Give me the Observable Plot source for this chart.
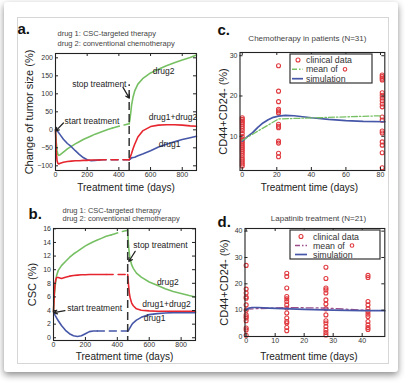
<!DOCTYPE html>
<html><head><meta charset="utf-8">
<script src="https://cdn.jsdelivr.net/npm/d3@7"></script>
<script src="https://cdn.jsdelivr.net/npm/@observablehq/plot@0.6"></script>
<style>
html,body{margin:0;padding:0;background:#fff;}
#page{position:relative;width:405px;height:385px;overflow:hidden;font-family:"Liberation Sans",Arial,sans-serif;}
#card{position:absolute;left:4px;top:2px;width:394px;height:370px;background:#fff;box-shadow:0 3px 7px rgba(0,0,0,0.45);border-radius:3px;}
#inner{position:absolute;left:17px;top:17px;width:370px;height:345px;border:1px solid #d6d6d6;}
.panel{position:absolute;}
</style></head><body>
<div id="page">
<div id="card"></div><div id="inner"></div>
<div class="panel" id="pa" style="left:0px;top:0px"></div>
<div class="panel" id="pc" style="left:200px;top:0px"></div>
<div class="panel" id="pb" style="left:0px;top:185px"></div>
<div class="panel" id="pd" style="left:200px;top:185px"></div>
</div>
<script>
// ---------- Panel a: change of tumor size ----------
const aTreatDays = [0,5,10,15,20,30,50,75,100,125,150,175,200,225,250,275,300,330,360,400,430,465];
const aDrug2Treat = [0,-35,-58,-68,-71,-69,-62,-53,-46,-39,-33,-27,-22,-17,-12,-8,-4,1,5,10,13,17];
const aComboTreat = [0,-62,-86,-93,-95,-93,-90,-88,-87,-86,-86,-85,-85,-84,-84,-84,-83,-83,-83,-83,-83,-83];
const aDrug1Treat = [0,-1,-3,-5,-8,-14,-26,-38,-47,-58,-68,-77,-83,-86,-85,-84,-83,-83,-83,-83,-83,-83];
const aAfterDays = [465,470,475,480,490,500,520,550,600,650,700,750,800,850,890];
const aDrug2After = [17,30,48,68,92,108,127,142,158,168,178,186,194,201,208];
const aComboAfter = [-83,-78,-72,-66,-52,-40,-20,-3,9,13,14,14,13,11,10];
const aDrug1After = [-83,-82,-80,-78,-77,-76,-72,-67,-58,-48,-40,-33,-27,-22,-18];
const aDashStart = {drug2: 360, combo: 275, drug1: 275};
const aNoteText = ["stop treatment","start treatment","drug2","drug1+drug2","drug1"];
const aNoteX = [448, 57, 614, 589, 652];
const aNoteY = [126, 23, 162, 34, -41];
const aNoteAnchor = ["end","start","start","start","start"];

// ---------- Panel b: CSC ----------
const bTreatDays = [0,5,10,15,20,30,50,75,100,125,150,175,200,225,250,275,300,330,360,400,430,465];
const bDrug2Treat = [3.8,6.2,7.5,8.5,9.2,9.9,10.6,11.2,11.8,12.3,12.7,13.1,13.5,13.8,14.1,14.35,14.6,14.9,15.1,15.4,15.6,15.8];
const bComboTreat = [3.8,6.5,8.0,8.6,8.85,8.85,8.7,8.9,9.05,9.15,9.2,9.25,9.25,9.3,9.3,9.3,9.3,9.3,9.3,9.3,9.3,9.3];
const bDrug1Treat = [3.8,3.6,3.3,3.1,2.9,2.5,1.8,1.1,0.6,0.3,0.2,0.3,0.6,0.9,1.0,1.0,1.0,1.0,1.0,1.0,1.0,1.0];
const bAfterDays = [465,470,475,480,490,500,520,550,600,650,700,750,800,850,890];
const bDrug2After = [15.8,13.6,12.4,11.6,10.7,10.2,9.5,8.9,8.2,7.7,7.2,6.8,6.5,6.2,6.0];
const bComboAfter = [9.3,7.8,6.6,5.9,5.1,4.7,4.25,4.05,3.95,3.9,3.9,3.9,3.9,3.9,3.9];
const bDrug1After = [1.0,1.1,1.3,1.5,1.9,2.2,2.6,3.0,3.4,3.55,3.65,3.7,3.7,3.7,3.7];
const bDashStart = {drug2: 360, combo: 330, drug1: 275};
const bNoteText = ["stop treatment","start treatment","drug2","drug1+drug2","drug1"];
const bNoteX = [500, 86, 648, 556, 566];
const bNoteY = [13.55, 4.3, 8.2, 4.85, 2.8];

// ---------- Panel c: chemotherapy patients ----------
const cDays = [0, 21, 81];
const cClinical0 = [14.6,14.2,13.8,13.4,13.0,12.5,12.0,11.4,10.7,9.9,9.3,8.8,8.3,7.8,7.3,6.8,6.3,5.8,5.2,4.6,4.1,3.6,3.1,2.6];
const cClinical21 = [27.5,21.2,18.6,16.7,16.3,15.8,13.0,12.5,12.1,8.8,8.3,5.8,4.9];
const cClinical81 = [25.2,24.8,24.4,24.0,20.8,20.2,19.5,18.8,18.0,17.3,14.8,14.0,11.3,10.8,8.6,7.8,5.9,2.2];
const cMean = [9.0, 14.3, 15.1];
const cSimDays = [0,3,6,9,12,15,18,21,25,30,40,50,60,70,82.5];
const cSim = [8.8,9.9,10.9,12.2,13.3,14.1,14.7,15.0,15.2,15.1,14.6,14.2,13.9,13.7,13.6];

// ---------- Panel d: lapatinib ----------
const dDays = [0, 14, 27.5, 42];
const dClinical0 = [27.0,18.0,16.5,15.0,14.5,12.0,10.0,8.2,7.5,7.0,6.0,3.2,2.5,0.5];
const dClinical14 = [24.0,22.8,18.4,15.2,14.3,13.3,12.0,10.8,8.9,7.0,5.7,5.1,3.4,2.2];
const dClinical27 = [26.3,22.0,18.4,17.7,16.5,13.9,12.3,10.5,8.2,6.0,5.1,3.8,2.5,1.5,0.6];
const dClinical42 = [23.2,22.4,13.3,12.0,10.5,9.5,8.5,7.6,5.7,4.4,3.4,2.7];
const dMean = [10.4, 11.0, 10.8, 9.9];
const dSimDays = [0,1,2,4,8,15,20,30,40,47.8];
const dSim = [10.2,10.8,11.0,11.0,10.8,10.5,10.3,10.0,9.8,9.8];

const legendLabels = ["clinical data", "mean of", "simulation"];
const subtitle = ["drug 1: CSC-targeted therapy", "drug 2: conventional chemotherapy"];

// ---------- styling ----------
const FONT = '"Liberation Sans", Arial, Helvetica, sans-serif';
const INK = "#222";
const GREEN = "#76c063", RED = "#e6262e", BLUE = "#4657a8", PURPLE = "#9b4d8c", DOT = "#e0393e";
const STOP_DAY = 465;

function rows(series, days, values) { return days.map((d, i) => ({series, day: d, value: values[i]})); }
function clinicalRows(days, cols) { return cols.flatMap((vals, i) => vals.map(v => ({day: days[i], value: v}))); }

function curveMarks(treat, after, dashStart, colors) {
  const m = [];
  for (const s of ["drug2", "drug1", "combo"]) {
    const t = treat[s], a = after[s];
    m.push(Plot.line(t.filter(r => r.day <= dashStart[s]), {x: "day", y: "value", stroke: colors[s], strokeWidth: 1.6}));
    m.push(Plot.line(t.filter(r => r.day >= dashStart[s]), {x: "day", y: "value", stroke: colors[s], strokeWidth: 1.6, strokeDasharray: "7,5"}));
    m.push(Plot.line(a, {x: "day", y: "value", stroke: colors[s], strokeWidth: 1.6}));
  }
  return m;
}

function legendMark({right, top, w, h, rowY, markX, lineX1, lineX2, textX, meanColor, meanDash}) {
  return (index, scales, values, dim) => {
    const x0 = dim.width - dim.marginRight - right - w, y0 = dim.marginTop + top;
    const g = d3.create("svg:g").attr("font-family", FONT).attr("font-size", 8.8).attr("fill", "#333").attr("text-anchor", "start");
    g.append("rect").attr("x", x0).attr("y", y0).attr("width", w).attr("height", h)
      .attr("fill", "white").attr("stroke", "#333").attr("stroke-width", 1.2);
    g.append("circle").attr("cx", x0 + markX).attr("cy", y0 + rowY[0]).attr("r", 2)
      .attr("fill", "none").attr("stroke", DOT).attr("stroke-width", 1.1);
    g.append("line").attr("x1", x0 + lineX1).attr("x2", x0 + lineX2).attr("y1", y0 + rowY[1]).attr("y2", y0 + rowY[1])
      .attr("stroke", meanColor).attr("stroke-width", 1.4).attr("stroke-dasharray", meanDash);
    g.append("line").attr("x1", x0 + lineX1).attr("x2", x0 + lineX2).attr("y1", y0 + rowY[2]).attr("y2", y0 + rowY[2])
      .attr("stroke", BLUE).attr("stroke-width", 1.7);
    legendLabels.forEach((t, i) => {
      g.append("text").attr("x", x0 + textX).attr("y", y0 + rowY[i]).attr("dy", "0.35em").attr("text-anchor", "start").text(t);
    });
    g.append("circle").attr("cx", x0 + textX + 39).attr("cy", y0 + rowY[1]).attr("r", 1.8)
      .attr("fill", "none").attr("stroke", DOT).attr("stroke-width", 1.1);
    return g.node();
  };
}

function panel({el, width, height, ml, mr, mt, mb, xDomain, yDomain, xTicks, yTicks, marks, overlays}) {
  const fw = width - ml - mr, fh = height - mt - mb;
  const p = Plot.plot({
    width, height, marginLeft: ml, marginRight: mr, marginTop: mt, marginBottom: mb,
    x: {domain: xDomain}, y: {domain: yDomain},
    style: {fontFamily: FONT, fontSize: "7px", color: "#333", background: "transparent", overflow: "visible"},
    marks: [
      ...marks,
      Plot.frame({stroke: INK, strokeWidth: 1.1}),
      Plot.tickX(xTicks, {x: d => d, insetTop: fh - 3, stroke: INK}),
      Plot.tickX(xTicks, {x: d => d, insetBottom: fh - 3, stroke: INK}),
      Plot.tickY(yTicks, {y: d => d, insetRight: fw - 3, stroke: INK}),
      Plot.tickY(yTicks, {y: d => d, insetLeft: fw - 3, stroke: INK}),
      Plot.axisX({ticks: xTicks, tickSize: 0, tickPadding: 2, label: null}),
      Plot.axisY({ticks: yTicks, tickSize: 0, tickPadding: 2.5, label: null}),
      ...overlays
    ]
  });
  document.getElementById(el).appendChild(p);
}

function textAt(t, opts) {
  return Plot.text([t], {text: d => d, fill: INK, ...opts});
}

// ---------- build panel a ----------
{
  const treat = {drug2: rows("drug2", aTreatDays, aDrug2Treat), combo: rows("combo", aTreatDays, aComboTreat), drug1: rows("drug1", aTreatDays, aDrug1Treat)};
  const after = {drug2: rows("drug2", aAfterDays, aDrug2After), combo: rows("combo", aAfterDays, aComboAfter), drug1: rows("drug1", aAfterDays, aDrug1After)};
  const notes = aNoteText.map((t, i) => ({t, x: aNoteX[i], y: aNoteY[i], a: aNoteAnchor[i]}));
  const yDomain = [-113, 212];
  panel({
    el: "pa", width: 205, height: 195, ml: 55, mr: 9, mt: 53, mb: 25,
    xDomain: [0, 890], yDomain, xTicks: [0,200,400,600,800], yTicks: [-100,-50,0,50,100,150,200],
    marks: [
      ...curveMarks(treat, after, aDashStart, {drug2: GREEN, combo: RED, drug1: BLUE}),
      Plot.ruleX([STOP_DAY], {x: d => d, y1: yDomain[0], y2: 125, stroke: "#333", strokeWidth: 1.5, strokeDasharray: "8,4"})
    ],
    overlays: [
      Plot.text(notes.filter(n => n.a === "end"), {x: "x", y: "y", text: "t", textAnchor: "end", fontSize: 8.5, fill: INK}),
      Plot.text(notes.filter(n => n.a === "start"), {x: "x", y: "y", text: "t", textAnchor: "start", fontSize: 8.5, fill: INK}),
      Plot.arrow([{x1: 50, y1: 19, x2: 2, y2: -3}, {x1: 426, y1: 118, x2: 466, y2: 88}], {x1: "x1", y1: "y1", x2: "x2", y2: "y2", stroke: INK, strokeWidth: 1.2, headLength: 5}),
      textAt("a.", {frameAnchor: "top-left", dx: -38, dy: -24, fontSize: 15, fontWeight: "bold", textAnchor: "start", lineAnchor: "middle", fill: "#111"}),
      textAt(subtitle[0], {frameAnchor: "top-left", dx: 2, dy: -20, fontSize: 7.5, textAnchor: "start", lineAnchor: "middle", fill: "#444"}),
      textAt(subtitle[1], {frameAnchor: "top-left", dx: 2, dy: -10, fontSize: 7.5, textAnchor: "start", lineAnchor: "middle", fill: "#444"}),
      textAt("Change of tumor size (%)", {frameAnchor: "left", dx: -26, rotate: -90, fontSize: 11, textAnchor: "middle", lineAnchor: "middle"}),
      textAt("Treatment time (days)", {frameAnchor: "bottom", dy: 17, fontSize: 10, textAnchor: "middle", lineAnchor: "middle"})
    ]
  });
}

// ---------- build panel b ----------
{
  const treat = {drug2: rows("drug2", bTreatDays, bDrug2Treat), combo: rows("combo", bTreatDays, bComboTreat), drug1: rows("drug1", bTreatDays, bDrug1Treat)};
  const after = {drug2: rows("drug2", bAfterDays, bDrug2After), combo: rows("combo", bAfterDays, bComboAfter), drug1: rows("drug1", bAfterDays, bDrug1After)};
  const notes = bNoteText.map((t, i) => ({t, x: bNoteX[i], y: bNoteY[i]}));
  panel({
    el: "pb", width: 202, height: 190, ml: 53, mr: 7, mt: 43, mb: 35,
    xDomain: [0, 890], yDomain: [-0.4, 16.05], xTicks: [0,200,400,600,800], yTicks: [0,2,4,6,8,10,12,14,16],
    marks: [
      ...curveMarks(treat, after, bDashStart, {drug2: GREEN, combo: RED, drug1: BLUE}),
      Plot.ruleX([STOP_DAY], {x: d => d, stroke: "#333", strokeWidth: 1.5, strokeDasharray: "8,4"})
    ],
    overlays: [
      Plot.text(notes, {x: "x", y: "y", text: "t", textAnchor: "start", fontSize: 8.5, fill: INK}),
      Plot.arrow([{x1: 512, y1: 12.7, x2: 472, y2: 11.2}, {x1: 72, y1: 4.0, x2: 3, y2: 3.7}], {x1: "x1", y1: "y1", x2: "x2", y2: "y2", stroke: INK, strokeWidth: 1.2, headLength: 5}),
      textAt("b.", {frameAnchor: "top-left", dx: -25, dy: -14, fontSize: 15, fontWeight: "bold", textAnchor: "start", lineAnchor: "middle", fill: "#111"}),
      textAt(subtitle[0], {frameAnchor: "top-left", dx: 9, dy: -18, fontSize: 7.5, textAnchor: "start", lineAnchor: "middle", fill: "#444"}),
      textAt(subtitle[1], {frameAnchor: "top-left", dx: 9, dy: -9.5, fontSize: 7.5, textAnchor: "start", lineAnchor: "middle", fill: "#444"}),
      textAt("CSC (%)", {frameAnchor: "left", dx: -21, rotate: -90, fontSize: 11, textAnchor: "middle", lineAnchor: "middle"}),
      textAt("Treatment time (days)", {frameAnchor: "bottom", dy: 16, fontSize: 10, textAnchor: "middle", lineAnchor: "middle"})
    ]
  });
}

// ---------- build panel c ----------
{
  const dots = clinicalRows(cDays, [cClinical0, cClinical21, cClinical81]);
  const mean = rows("mean", cDays, cMean);
  const sim = rows("sim", cSimDays, cSim);
  panel({
    el: "pc", width: 200, height: 195, ml: 39.5, mr: 15.7, mt: 52, mb: 25,
    xDomain: [-1.3, 82.5], yDomain: [1.5, 30.8], xTicks: [0,20,40,60,80], yTicks: [10,20,30],
    marks: [
      Plot.dot(dots, {x: "day", y: "value", r: 2, stroke: DOT, strokeWidth: 1.1, fill: "none"}),
      Plot.line(sim, {x: "day", y: "value", stroke: BLUE, strokeWidth: 1.7}),
      Plot.line(mean, {x: "day", y: "value", stroke: GREEN, strokeWidth: 1.3, strokeDasharray: "6,2,1.5,2"})
    ],
    overlays: [
      legendMark({right: 12.3, top: 2, w: 82, h: 29, rowY: [6, 15.3, 24.7], markX: 8, lineX1: 2, lineX2: 13, textX: 16, meanColor: GREEN, meanDash: "5,2,1.5,2"}),
      textAt("c.", {frameAnchor: "top-left", dx: -22.5, dy: -22, fontSize: 15, fontWeight: "bold", textAnchor: "start", lineAnchor: "middle", fill: "#111"}),
      textAt("Chemotherapy in patients (N=31)", {frameAnchor: "top", dx: -5, dy: -14, fontSize: 8, textAnchor: "middle", lineAnchor: "middle", fill: "#444"}),
      textAt("CD44+CD24- (%)", {frameAnchor: "left", dx: -16.5, rotate: -90, fontSize: 11, textAnchor: "middle", lineAnchor: "middle"}),
      textAt("Treatment time (days)", {frameAnchor: "bottom", dx: -3, dy: 17, fontSize: 10, textAnchor: "middle", lineAnchor: "middle"})
    ]
  });
}

// ---------- build panel d ----------
{
  const dots = clinicalRows(dDays, [dClinical0, dClinical14, dClinical27, dClinical42]);
  const mean = rows("mean", dDays, dMean);
  const sim = rows("sim", dSimDays, dSim);
  panel({
    el: "pd", width: 200, height: 190, ml: 44.5, mr: 15.7, mt: 43, mb: 39,
    xDomain: [-0.4, 47.8], yDomain: [0, 41], xTicks: [0,10,20,30,40], yTicks: [0,10,20,30,40],
    marks: [
      Plot.dot(dots, {x: "day", y: "value", r: 2, stroke: DOT, strokeWidth: 1.1, fill: "none"}),
      Plot.line(mean, {x: "day", y: "value", stroke: PURPLE, strokeWidth: 1.3, strokeDasharray: "7,3,2,3"}),
      Plot.line(sim, {x: "day", y: "value", stroke: BLUE, strokeWidth: 1.7})
    ],
    overlays: [
      legendMark({right: 4.3, top: 2, w: 90, h: 29, rowY: [6.5, 15.5, 24.5], markX: 11, lineX1: 5, lineX2: 17, textX: 23, meanColor: PURPLE, meanDash: "5,2,1.5,2"}),
      textAt("d.", {frameAnchor: "top-left", dx: -27.5, dy: -6, fontSize: 15, fontWeight: "bold", textAnchor: "start", lineAnchor: "middle", fill: "#111"}),
      textAt("Lapatinib treatment (N=21)", {frameAnchor: "top", dx: 3.6, dy: -10, fontSize: 8, textAnchor: "middle", lineAnchor: "middle", fill: "#444"}),
      textAt("CD44+CD24- (%)", {frameAnchor: "left", dx: -20.5, rotate: -90, fontSize: 11, textAnchor: "middle", lineAnchor: "middle"}),
      textAt("Treatment time (days)", {frameAnchor: "bottom", dx: -6, dy: 20, fontSize: 10, textAnchor: "middle", lineAnchor: "middle"})
    ]
  });
}
</script>
</body></html>
